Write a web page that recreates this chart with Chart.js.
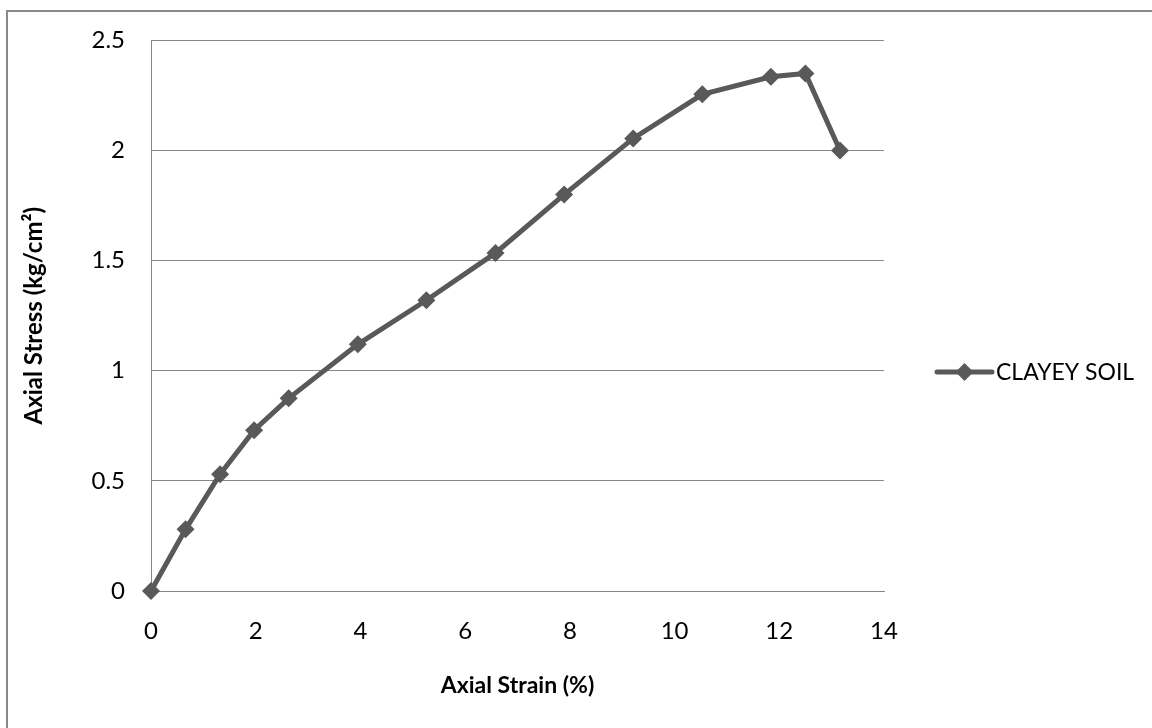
<!DOCTYPE html>
<html><head><meta charset="utf-8">
<script src="https://cdn.jsdelivr.net/npm/chart.js@4.4.0/dist/chart.umd.min.js"></script>
<style>
html,body{margin:0;padding:0;background:#fff;overflow:hidden}
#wrap{position:relative;width:1152px;height:728px;overflow:hidden}
#frame{position:absolute;left:6px;top:10px;width:1200px;height:800px;border:2px solid #898989;box-sizing:border-box}
canvas{position:absolute;left:0;top:0}
</style></head><body>
<div id="wrap"><div id="frame"></div><canvas id="c" width="1152" height="728"></canvas></div>
<script>
const seriesName = 'CLAYEY SOIL';
const axialStrain = [0, 0.66, 1.32, 1.97, 2.63, 3.95, 5.26, 6.58, 7.89, 9.21, 10.53, 11.84, 12.50, 13.16];
const axialStress = [0, 0.28, 0.53, 0.73, 0.875, 1.12, 1.32, 1.535, 1.80, 2.055, 2.255, 2.335, 2.35, 2.0];
const xTickValues = [0, 2, 4, 6, 8, 10, 12, 14];
const yTickValues = [0, 0.5, 1, 1.5, 2, 2.5];
const xTitle = 'Axial Strain (%)';
const yTitle = 'Axial Stress (kg/cm²)';

const FONT = 'Lato, "Open Sans", sans-serif';
const LINE = '#595959';
const GRID = '#878787';

const points = axialStrain.map((x, i) => ({x: x, y: axialStress[i]}));

const legendPlugin = {
  id: 'excelLegend',
  afterDraw(chart) {
    const ctx = chart.ctx;
    const ca = chart.chartArea;
    const y = 372;
    const x0 = ca.right + 53, x1 = ca.right + 108;
    ctx.save();
    ctx.strokeStyle = LINE;
    ctx.lineWidth = 5;
    ctx.lineCap = 'round';
    ctx.beginPath(); ctx.moveTo(x0, y); ctx.lineTo(x1, y); ctx.stroke();
    const cx = (x0 + x1) / 2, r = 9;
    ctx.fillStyle = LINE;
    ctx.beginPath();
    ctx.moveTo(cx, y - r); ctx.lineTo(cx + r, y); ctx.lineTo(cx, y + r); ctx.lineTo(cx - r, y);
    ctx.closePath(); ctx.fill();
    ctx.fillStyle = '#000';
    ctx.font = '23px ' + FONT;
    ctx.textBaseline = 'middle';
    ctx.textAlign = 'left';
    ctx.fillText(chart.data.datasets[0].label, x1 + 4, y + 1);
    ctx.restore();
  }
};

new Chart(document.getElementById('c'), {
  type: 'scatter',
  data: {
    datasets: [{
      label: seriesName,
      data: points,
      showLine: true,
      clip: false,
      borderColor: LINE,
      backgroundColor: LINE,
      borderWidth: 5,
      pointStyle: 'rectRot',
      pointRadius: 9,
      pointHoverRadius: 9,
      pointBorderWidth: 0,
      tension: 0
    }]
  },
  options: {
    responsive: false,
    animation: false,
    events: [],
    layout: {padding: {left: 0, top: 40, right: 268, bottom: 0}},
    plugins: {
      legend: {display: false},
      tooltip: {enabled: false}
    },
    scales: {
      x: {
        type: 'linear',
        min: xTickValues[0],
        max: xTickValues[xTickValues.length - 1],
        afterBuildTicks(s) { s.ticks = xTickValues.map(v => ({value: v})); },
        afterFit(s) { s.height = 137; },
        grid: {display: false, drawTicks: false},
        border: {display: true, color: GRID, width: 1},
        ticks: {color: '#000', font: {family: FONT, size: 24}, padding: 26, maxRotation: 0,
          callback: v => String(v)},
        title: {display: true, text: xTitle, color: '#000',
          font: {family: FONT, size: 23, weight: 'bold'}, padding: {top: 0, bottom: 29}}
      },
      y: {
        type: 'linear',
        min: yTickValues[0],
        max: yTickValues[yTickValues.length - 1],
        afterBuildTicks(s) { s.ticks = yTickValues.map(v => ({value: v})); },
        afterFit(s) { s.width = 151; },
        grid: {color: GRID, lineWidth: 1, drawTicks: false},
        border: {display: true, color: GRID, width: 1},
        ticks: {color: '#000', font: {family: FONT, size: 24}, padding: 26,
          callback: v => String(v)},
        title: {display: true, text: yTitle, color: '#000',
          font: {family: FONT, size: 24, weight: 'bold'}, padding: {top: 20, bottom: 0}}
      }
    }
  },
  plugins: [legendPlugin]
});
</script>
</body></html>
